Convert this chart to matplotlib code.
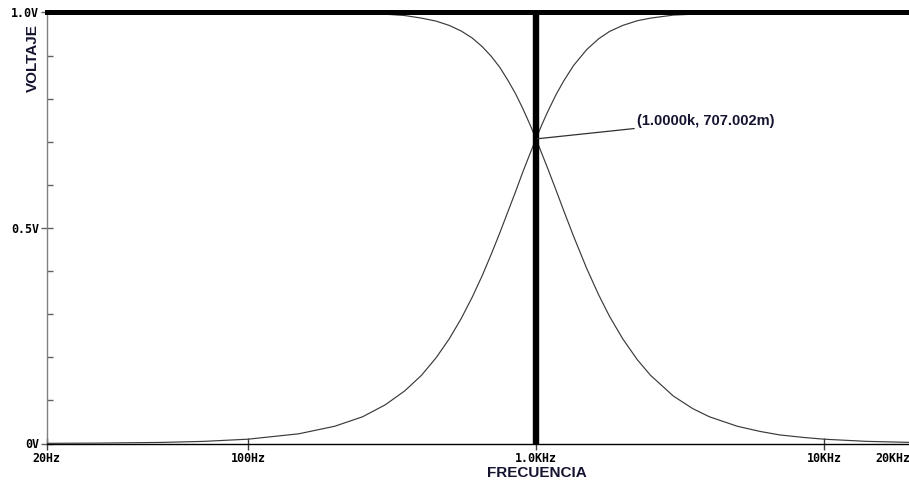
import matplotlib
matplotlib.use("Agg")
import matplotlib.pyplot as plt
from matplotlib.ticker import FixedLocator, MultipleLocator, NullLocator

# frequency sweep (Hz) and the two filter outputs (V)
freq = [20, 30, 50, 70, 100, 150, 200, 250, 300, 350, 400, 450, 500, 550, 600,
        650, 700, 750, 800, 850, 900, 950, 1000, 1050, 1100, 1175, 1250, 1350,
        1500, 1650, 1800, 2000, 2250, 2500, 3000, 3500, 4000, 5000, 6000, 7000,
        8500, 10000, 14000, 20000]
v_low = [1.000, 1.000, 1.000, 1.000, 1.000, 1.000, 0.999, 0.998, 0.996, 0.993,
         0.987, 0.980, 0.970, 0.957, 0.941, 0.921, 0.898, 0.872, 0.842, 0.811,
         0.777, 0.742, 0.707, 0.671, 0.637, 0.587, 0.539, 0.481, 0.406, 0.345,
         0.295, 0.243, 0.194, 0.158, 0.110, 0.081, 0.062, 0.040, 0.028, 0.020,
         0.014, 0.010, 0.005, 0.0025]
v_high = [0.0004, 0.0009, 0.0025, 0.0049, 0.010, 0.0225, 0.040, 0.062, 0.090,
          0.122, 0.158, 0.199, 0.243, 0.290, 0.339, 0.389, 0.440, 0.490, 0.539,
          0.585, 0.630, 0.670, 0.707, 0.741, 0.771, 0.810, 0.842, 0.877, 0.914,
          0.939, 0.956, 0.970, 0.981, 0.987, 0.994, 0.996, 0.998, 0.999, 1.000,
          1.000, 1.000, 1.000, 1.000, 1.000]

x_ticks = [20, 100, 1000, 10000, 20000]
x_ticklabels = ["20Hz", "100Hz", "1.0KHz", "10KHz", "20KHz"]
y_ticks = [0.0, 0.5, 1.0]
y_ticklabels = ["0V", "0.5V", "1.0V"]

cursor_f = 1000.0
cursor_v = 0.707002
cursor_text = "(1.0000k, 707.002m)"

W, H, DPI = 909, 482, 100
fig = plt.figure(figsize=(W / DPI, H / DPI), dpi=DPI, facecolor="white")
ax = fig.add_axes([46.7 / W, 38.5 / H, 864 / W, 431 / H])
ax.set_facecolor("white")

ax.set_xscale("log")
ax.set_xlim(20, 20000)
ax.set_ylim(0, 1.0)

# traces
ax.plot(freq, v_low, color="#3a3a3a", lw=0.85, solid_joinstyle="round", zorder=3)
ax.plot(freq, v_high, color="#3a3a3a", lw=0.85, solid_joinstyle="round", zorder=3)

# cursor crosshair
ax.axvline(cursor_f, color="black", lw=4.6, zorder=4)
ax.axhline(1.0, color="black", lw=3.6, zorder=4, clip_on=False)

# cursor readout
ax.annotate(cursor_text, xy=(cursor_f * 1.01, cursor_v), xycoords="data",
            xytext=(637 / W, (482 - 121) / H), textcoords="figure fraction",
            fontsize=10.5, fontweight="bold", family="Liberation Sans",
            color="#141430", va="center", ha="left",
            arrowprops=dict(arrowstyle="-", color="#303030", lw=0.9,
                            shrinkA=0, shrinkB=0), zorder=5)

# spines
for s in ("top", "right"):
    ax.spines[s].set_visible(False)
ax.spines["left"].set_color("#808080")
ax.spines["left"].set_linewidth(1.0)
ax.spines["bottom"].set_color("black")
ax.spines["bottom"].set_linewidth(1.0)

# ticks
mono = dict(family="DejaVu Sans Mono", fontweight="bold", fontsize=8.4)
ax.xaxis.set_major_locator(FixedLocator(x_ticks))
ax.xaxis.set_minor_locator(NullLocator())
ax.set_xticklabels(x_ticklabels, **mono)
ax.xaxis.get_ticklabels()[-1].set_horizontalalignment("right")
ax.tick_params(axis="x", which="major", direction="inout", length=9,
               width=1.0, color="#404040", pad=1.5)

ax.yaxis.set_major_locator(FixedLocator(y_ticks))
ax.yaxis.set_minor_locator(MultipleLocator(0.1))
ax.set_yticklabels(y_ticklabels, **mono)
ax.tick_params(axis="y", which="major", direction="inout", length=9,
               width=1.0, color="#606060", pad=1)
ax.tick_params(axis="y", which="minor", direction="in", length=4,
               width=1.0, color="#606060")

# axis titles
fig.text(33 / W, 1 - 58 / H, "VOLTAJE", rotation=90, ha="center", va="center",
         fontsize=11, fontweight="bold", family="Liberation Sans", color="#141430")
fig.text(537 / W, 1 - 473 / H, "FRECUENCIA", ha="center", va="center",
         fontsize=11, fontweight="bold", family="Liberation Sans", color="#141430")

fig.savefig("out.png", dpi=DPI, facecolor="white")
